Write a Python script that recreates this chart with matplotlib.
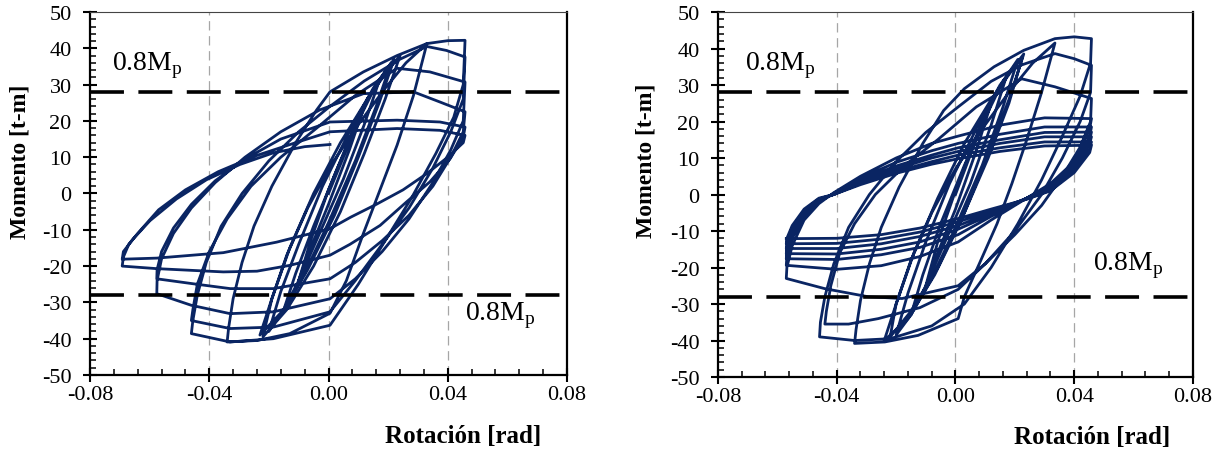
#!/usr/bin/env python3
"""
plot.py - momento vs rotacion, two hysteresis panels side by side.
Output: out.png (1224x456)
"""

import matplotlib
matplotlib.use("Agg")
import matplotlib.pyplot as plt
from matplotlib.ticker import MultipleLocator, FormatStrFormatter

plt.rcParams["font.family"] = ["Liberation Serif", "DejaVu Serif"]
plt.rcParams["mathtext.fontset"] = "custom"
plt.rcParams["mathtext.rm"] = "Liberation Serif"
plt.rcParams["axes.unicode_minus"] = False

LINE = "#0a2563"
GRID = "#a6a6a6"

# 0.8 Mp reference level [t-m]
MP_08 = 28.0
GRID_X = [-0.04, 0.0, 0.04]

# ---- left specimen: rotation [rad] / moment [t-m], in loading order ----
rot_left = [
    # small cycles
    0.0, 0.006, 0.012, 0.007, 0.0, -0.006, -0.010,
    -0.006, 0.0, 0.007, 0.013, 0.017, 0.012, 0.005, -0.003, -0.010, -0.015,
    -0.011, -0.005, 0.003, 0.010, 0.016, 0.021, 0.016, 0.009, 0.0, -0.008, -0.015, -0.020,
    -0.016, -0.010, -0.002, 0.007, 0.015, 0.022, 0.017, 0.010, 0.002, -0.007, -0.015, -0.023,
    -0.019, -0.013, -0.005, 0.004, 0.013, 0.020, 0.024, 0.019, 0.012, 0.004, -0.005, -0.014, -0.022,
    # first large cycle
    -0.019, -0.014, -0.007, 0.001, 0.010, 0.019, 0.026, 0.033,
    0.0285, 0.023, 0.017, 0.0117, 0.006, 0.0005, -0.013, -0.024, -0.034,
    # large cycles
    -0.0335, -0.032, -0.029, -0.025, -0.019, -0.011, -0.004, 0.0005, 0.0117, 0.023, 0.033, 0.040, 0.0458,
    0.0452, 0.042, 0.036, 0.028, 0.019, 0.010, 0.0005, -0.0185, -0.033, -0.046,
    -0.0455, -0.044, -0.041, -0.036, -0.029, -0.020, -0.010, 0.0005, 0.012, 0.024, 0.033, 0.0396, 0.0458,
    0.0452, 0.041, 0.035, 0.027, 0.018, 0.009, 0.0005, -0.0185, -0.033, -0.046,
    -0.0455, -0.044, -0.040, -0.034, -0.026, -0.016, -0.004, 0.009, 0.023, 0.034, 0.0458,
    0.0452, 0.041, 0.035, 0.027, 0.018, 0.009, 0.0005, -0.0185, -0.033, -0.046, -0.0576,
    -0.0575, -0.056, -0.052, -0.046, -0.038, -0.028, -0.016, -0.003, 0.0117, 0.0285, 0.0374, 0.0458,
    0.0452, 0.041, 0.035, 0.027, 0.018, 0.009, 0.0005, -0.0185, -0.033, -0.046, -0.0576,
    -0.0575, -0.056, -0.052, -0.046, -0.038, -0.028, -0.016, 0.0005, 0.023, 0.0374, 0.0458,
    0.0452, 0.0408, 0.034, 0.0262, 0.0173, 0.0072, 0.0005, -0.013, -0.024, -0.0353, -0.0576, -0.0692,
    -0.0688, -0.067, -0.064, -0.057, -0.048, -0.037, -0.024, -0.011, 0.0005, 0.023, 0.0374, 0.0458,
    0.0452, 0.040, 0.033, 0.025, 0.016, 0.0075, 0.0005, -0.0174, -0.0353, -0.0576, -0.0692,
    -0.0688, -0.0655, -0.0599, -0.051, -0.0409, -0.0297, -0.0185, -0.008, 0.0005,
]
mom_left = [
    0, 12, 24, 12, -3, -15, -24,
    -13, 1, 15, 26, 31, 19, 4, -11, -24, -32,
    -22, -9, 7, 20, 30, 36, 24, 9, -8, -22, -32, -38,
    -27, -14, 2, 17, 29, 37, 25, 10, -6, -21, -32, -39,
    -29, -15, 0, 14, 26, 34, 38, 26, 11, -5, -20, -32, -39.5,
    -29, -17, -4, 8, 19, 29, 36, 41.3,
    27, 13.3, 0.4, -11, -24, -33, -38.6, -40.5, -40.9,
    -37, -29, -19, -9, 2, 14, 23, 28, 33.5, 38, 41.3, 42.1, 42.2,
    30, 21, 11, -1, -13, -25, -36.3, -40, -40.9, -38.6,
    -35, -28, -19, -9, 0, 9, 17, 24, 31, 37, 40.5, 39.4, 37.6,
    26, 17, 7, -4, -14, -24, -32.6, -36.8, -37.2, -35,
    -32, -25, -16, -7, 2, 10, 18, 27, 34.5, 33.5, 30.7,
    20, 12, 3, -7, -16, -23.5, -29, -32.6, -33.1, -30.8, -27.6,
    -24, -18, -11, -4, 3, 10, 17, 23, 27.5, 28, 25.2, 22.5,
    17, 10, 2, -6, -13, -19, -23.5, -26.2, -26.2, -24.8, -23.5,
    -21, -16, -9.5, -3, 3.5, 9.5, 15, 19.7, 20.2, 19.7, 18.3,
    15.5, 9.6, 3.2, -2.3, -8.8, -14, -17, -19.8, -21.4, -21.6, -20.7, -20,
    -17.5, -14, -11, -4.5, 1, 6, 10.5, 14, 17, 17.9, 17.4, 16,
    14, 10, 5.5, 1, -3, -6.5, -9.7, -13.4, -16.3, -17.8, -18.1,
    -16, -12.5, -7.5, -1.5, 3.8, 8, 11.2, 12.9, 13.5,
]

# ---- right specimen ----
rot_right = [
    # small cycles
    0.0, 0.006, 0.012, 0.007, 0.0, -0.006, -0.010,
    -0.006, 0.0, 0.007, 0.013, 0.017, 0.012, 0.005, -0.003, -0.010, -0.015,
    -0.011, -0.005, 0.003, 0.010, 0.016, 0.021, 0.016, 0.009, 0.0, -0.008, -0.015, -0.020,
    -0.016, -0.010, -0.002, 0.007, 0.015, 0.023, 0.018, 0.010, 0.002, -0.007, -0.016, -0.024,
    -0.020, -0.014, -0.006, 0.003, 0.012, 0.019, 0.0225, 0.018, 0.011, 0.003, -0.006, -0.015, -0.022,
    # first large cycle
    -0.020, -0.015, -0.008, 0.0, 0.009, 0.018, 0.026, 0.0335,
    0.029, 0.024, 0.019, 0.014, 0.008, 0.003, 0.0009, -0.0126, -0.0238, -0.034,
    # large cycles
    -0.0335, -0.032, -0.029, -0.025, -0.019, -0.011, -0.004, 0.003, 0.013, 0.023, 0.0335, 0.040, 0.0458,
    0.0455, 0.042, 0.036, 0.029, 0.021, 0.012, 0.003, -0.008, -0.022, -0.034, -0.0458,
    -0.0455, -0.044, -0.041, -0.036, -0.029, -0.020, -0.010, 0.0009, 0.012, 0.0223, 0.0335, 0.040, 0.0458,
    0.0455, 0.042, 0.036, 0.029, 0.020, 0.010, 0.0009, -0.012, -0.026, -0.036, -0.044,
    -0.0435, -0.042, -0.039, -0.034, -0.027, -0.017, -0.006, 0.007, 0.0223, 0.0335, 0.0458,
    0.0455, 0.042, 0.036, 0.029, 0.020, 0.010, 0.0009, -0.018, -0.0295, -0.044, -0.057,
    # degraded cycles
    -0.0568, -0.055, -0.051, -0.046, -0.041, -0.032, -0.020, -0.008, 0.0009, 0.015, 0.030, 0.0458,
    0.0452, 0.040, 0.032, 0.024, 0.012, 0.0009, -0.012, -0.025, -0.040, -0.057,
    -0.0568, -0.055, -0.051, -0.046, -0.041, -0.032, -0.020, -0.008, 0.0009, 0.015, 0.030, 0.0458,
    0.0452, 0.040, 0.032, 0.024, 0.012, 0.0009, -0.012, -0.025, -0.040, -0.057,
    -0.0568, -0.055, -0.051, -0.046, -0.041, -0.032, -0.020, -0.008, 0.0009, 0.015, 0.030, 0.0458,
    0.0452, 0.040, 0.032, 0.024, 0.012, 0.0009, -0.012, -0.025, -0.040, -0.057,
    -0.0568, -0.055, -0.051, -0.046, -0.041, -0.032, -0.020, -0.008, 0.0009, 0.015, 0.030, 0.0458,
    0.0452, 0.040, 0.032, 0.024, 0.012, 0.0009, -0.012, -0.025, -0.040, -0.057,
    -0.0568, -0.055, -0.051, -0.046, -0.041, -0.032, -0.020, -0.008, 0.0009, 0.015, 0.030, 0.0458,
    0.0452, 0.040, 0.032, 0.024, 0.012, 0.0009, -0.012, -0.025, -0.040, -0.057,
    -0.0568, -0.055, -0.051, -0.046, -0.041, -0.032, -0.020, -0.008, 0.0009, 0.015, 0.030, 0.0458,
    0.0452, 0.040, 0.032, 0.024, 0.012, 0.0009, -0.012, -0.025, -0.040, -0.057,
]
mom_right = [
    0, 13, 25, 12, -4, -16, -25,
    -13, 1, 16, 27, 32, 19, 3, -12, -25, -33,
    -22, -8, 8, 21, 31, 37, 24, 8, -9, -23, -33, -38.5,
    -27, -13, 3, 18, 30, 38.5, 26, 9, -7, -22, -34, -40,
    -30, -16, -1, 14, 26, 34, 37.5, 25, 10, -5, -20, -32, -39,
    -30, -18, -5, 7, 18, 28, 36, 41.5,
    28, 15, 3, -8, -19, -28, -34, -38.6, -40.4, -40.8,
    -37, -29, -19, -9, 2, 14, 23, 29, 35, 39.5, 42.7, 43.2, 42.7,
    36, 27, 16, 4, -8, -20, -30, -36, -39.5, -40, -39,
    -35, -28, -19, -9, 0, 9, 17, 24, 31, 35.5, 38.6, 37.2, 35.4,
    28, 20, 10, 0, -10, -19, -26, -31, -34, -35.5, -35.5,
    -32, -25, -16, -8, 0, 8, 15, 24, 31.7, 29.5, 26.3,
    20, 13, 5, -3, -11, -19, -25, -28.5, -28, -25.8, -23,
    -20, -14, -7, -2.5, 0.5, 5, 10, 14, 16, 19, 21, 20.8,
    18, 9, 3, -1, -7, -13, -17, -19.5, -20.5, -19.4,
    -17, -12, -6, -2, 0.3, 4.5, 8.8, 12, 14, 16.5, 18.5, 18.5,
    16, 8, 2.5, -1, -6, -11, -14.5, -16.5, -17.8, -17.6,
    -15.5, -11, -5.5, -1.8, 0.2, 4, 7.8, 10.8, 12.8, 15, 17, 17.1,
    15, 7.5, 2, -1, -5.5, -9.5, -13, -15, -16.3, -16.2,
    -14.5, -10, -5, -1.5, 0, 3.5, 7, 10, 11.8, 14, 15.8, 15.8,
    14, 7, 1.5, -1, -5, -8.5, -11.5, -13.5, -14.8, -14.8,
    -13, -9, -4.5, -1.2, 0, 3, 6.3, 9, 10.8, 12.8, 14.4, 14.4,
    12.5, 6.5, 1.2, -1.2, -4.5, -7.5, -10.3, -12.2, -13.4, -13.5,
    -12, -8.5, -4, -1, 0, 2.7, 5.8, 8.3, 9.8, 11.8, 13.3, 13.5,
    11.5, 6, 1, -1.3, -4, -6.6, -9.2, -11, -12, -12.1,
]

# label anchors for the 0.8Mp texts (data coords)
MP_TEXT_LEFT = [(-0.0725, 35.5), (0.0458, -33.5)]
MP_TEXT_RIGHT = [(-0.0709, 35.5), (0.0464, -19.3)]


def style_axes(ax):
    ax.set_xlim(-0.08, 0.08)
    ax.set_ylim(-50, 50)
    ax.xaxis.set_major_locator(MultipleLocator(0.04))
    ax.xaxis.set_minor_locator(MultipleLocator(0.008))
    ax.yaxis.set_major_locator(MultipleLocator(10))
    ax.yaxis.set_minor_locator(MultipleLocator(2))
    ax.xaxis.set_major_formatter(FormatStrFormatter("%.2f"))
    ax.yaxis.set_major_formatter(FormatStrFormatter("%d"))

    ax.tick_params(which="major", direction="inout", length=10.5, width=1.5,
                   labelsize=16, colors="black")
    ax.tick_params(which="minor", direction="in", length=4, width=1.1)
    ax.tick_params(axis="y", which="major", pad=8)
    ax.tick_params(axis="x", which="major", pad=2)
    ax.tick_params(top=False, right=False, which="both")

    for side in ("left", "bottom", "right"):
        ax.spines[side].set_linewidth(1.6)
        ax.spines[side].set_color("black")
    ax.spines["top"].set_linewidth(0.8)
    ax.spines["top"].set_color("#444444")

    for gx in GRID_X:
        ax.axvline(gx, color=GRID, lw=0.9, dashes=(7.5, 4.5), zorder=1)

    for lvl in (MP_08, -MP_08):
        ax.axhline(lvl, color="black", lw=2.6, dashes=(9.4, 4.0), zorder=3)


def draw_panel(ax, rot, mom, mp_pos, ylab_xy, xlab_xy):
    style_axes(ax)
    ax.plot(rot, mom, color=LINE, lw=2.0, solid_joinstyle="round", zorder=2)

    for x, y in mp_pos:
        ax.text(x, y, r"0.8M$_\mathregular{p}$", fontsize=20,
                ha="left", va="center", zorder=4)

    ax.text(ylab_xy[0], ylab_xy[1], "Momento [t-m]", transform=ax.transAxes,
            rotation=90, ha="center", va="center", fontsize=17, fontweight="bold")
    ax.text(xlab_xy[0], xlab_xy[1], "Rotación [rad]", transform=ax.transAxes,
            ha="center", va="center", fontsize=18, fontweight="bold")


def main(out_path="out.png"):
    fig = plt.figure(figsize=(12.24, 4.56), dpi=100, facecolor="white")

    ax_l = fig.add_axes([0.07353, 0.17544, 0.38971, 0.79605])
    ax_r = fig.add_axes([0.58660, 0.17105, 0.38807, 0.80044])

    draw_panel(ax_l, rot_left, mom_left, MP_TEXT_LEFT, (-0.147, 0.59), (0.782, -0.168))
    draw_panel(ax_r, rot_right, mom_right, MP_TEXT_RIGHT, (-0.152, 0.595), (0.787, -0.162))

    fig.savefig(out_path, dpi=100, facecolor="white")
    plt.close(fig)


if __name__ == "__main__":
    main()
